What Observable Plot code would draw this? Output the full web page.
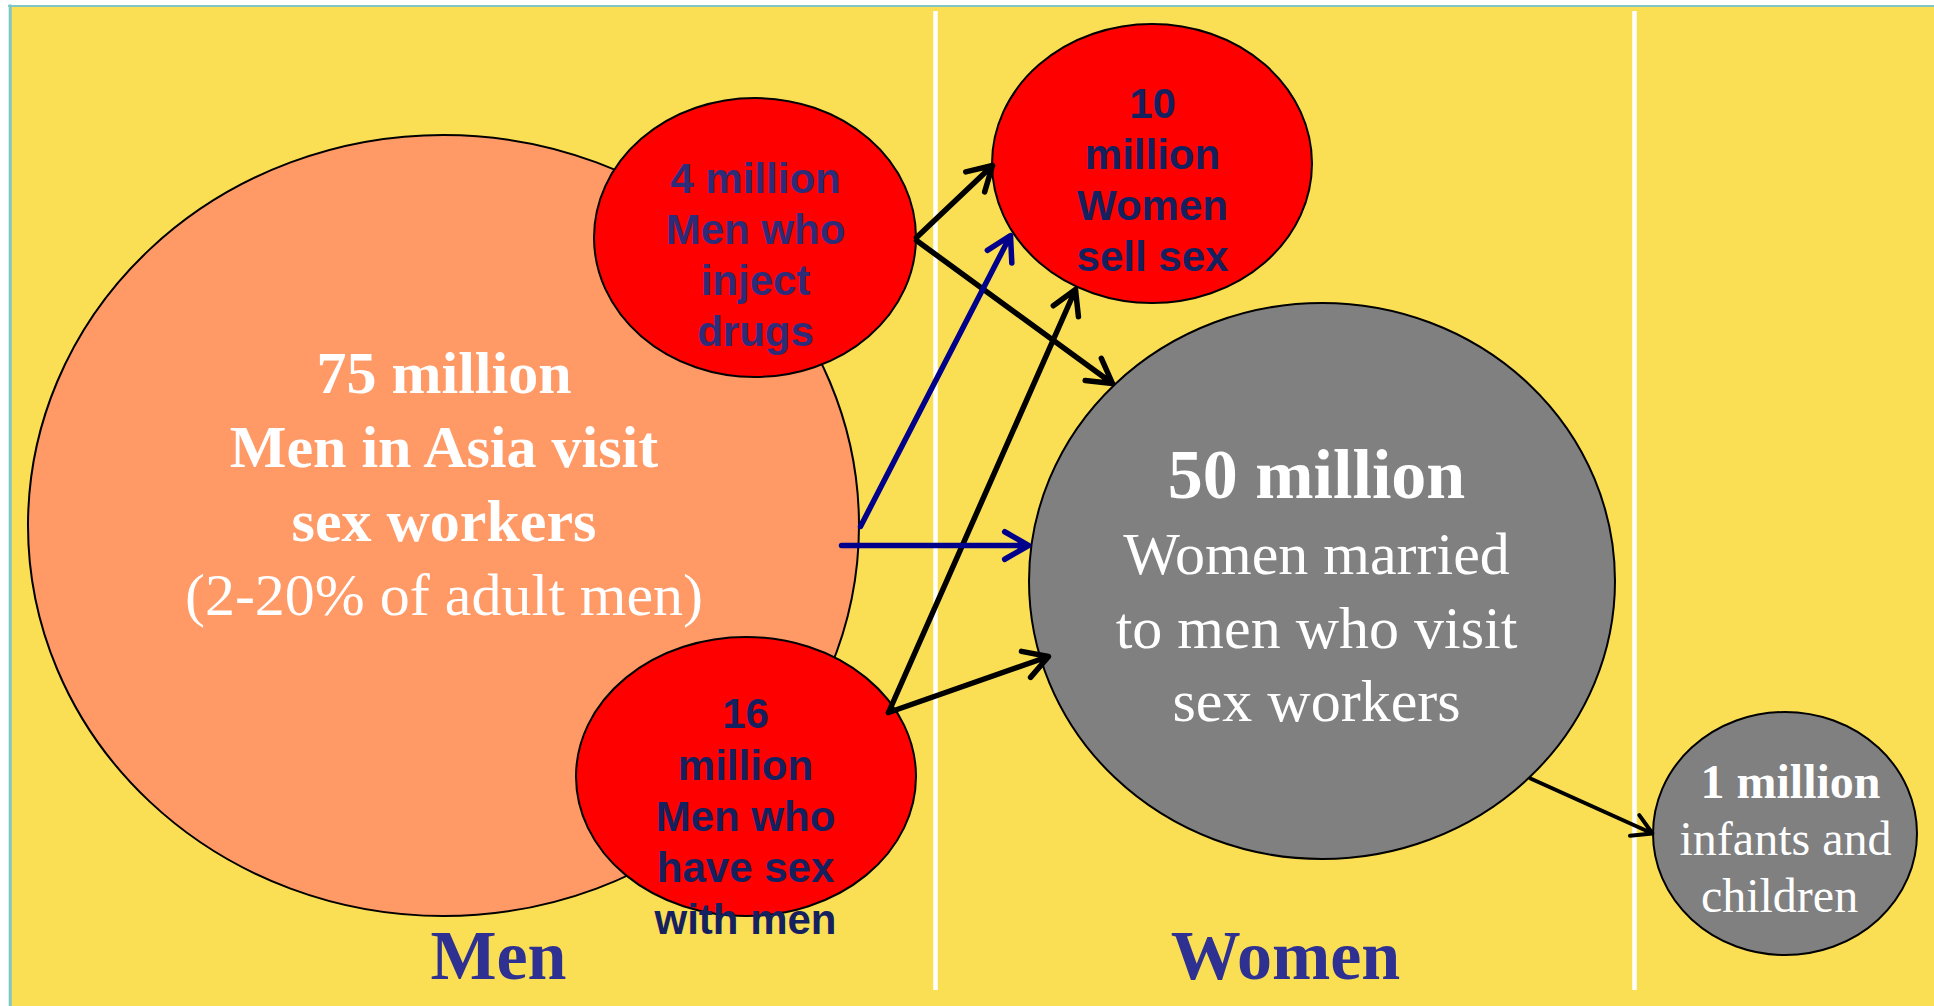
<!DOCTYPE html>
<html>
<head>
<meta charset="utf-8">
<script src="https://cdn.jsdelivr.net/npm/d3@7"></script>
<script src="https://cdn.jsdelivr.net/npm/@observablehq/plot@0.6"></script>
<style>
  html, body { margin: 0; padding: 0; background: #ffffff; overflow: hidden; }
</style>
</head>
<body>
<div id="chart"></div>
<script>
// ---- Data: populations (millions) ----
const nodeIds      = ["clients", "idu", "msm", "fsw", "wives", "children"];
const nodeMillions = [75, 4, 16, 10, 50, 1];
const nodeKinds    = ["client", "risk", "risk", "risk", "infected", "infected"];

// ---- Text lines (per node) ----
const clientLines   = ["75 million", "Men in Asia visit", "sex workers", "(2-20% of adult men)"];
const iduLines      = ["4 million", "Men who", "inject", "drugs"];
const fswLines      = ["10", "million", "Women", "sell sex"];
const msmLines      = ["16", "million", "Men who", "have sex", "with men"];
const wivesLines    = ["50 million", "Women married", "to men who visit", "sex workers"];
const childLines    = ["1 million", "infants and", "children"];
const panelLabels   = ["Men", "Women"];

// ---- Flows (from -> to) ----
const flowFrom = ["idu", "idu", "clients", "clients", "msm", "msm", "wives"];
const flowTo   = ["fsw", "wives", "fsw", "wives", "fsw", "wives", "children"];
const flowKind = ["drug", "drug", "client", "client", "msm", "msm", "mother"];

// ---- Layout (pixel-space units of the identity scales) ----
const layoutCx = {clients: 443.5, idu: 755, msm: 746, fsw: 1152, wives: 1322, children: 1785};
const layoutCy = {clients: 525.5, idu: 237.5, msm: 776.5, fsw: 163.5, wives: 581, children: 833.5};
const layoutRx = {clients: 415.5, idu: 161, msm: 170, fsw: 160, wives: 293, children: 132};
const layoutRy = {clients: 390.5, idu: 139.5, msm: 139.5, fsw: 139.5, wives: 278, children: 121.5};
const drawOrder = ["clients", "idu", "msm", "fsw", "wives", "children"];
const kindFill = {client: "#FF9966", risk: "#FF0000", infected: "#808080"};

const flowStart = [[916, 237], [916, 240], [860, 526], [841, 545], [888, 712], [888, 712], [1530, 778]];
const flowEnd   = [[992, 165], [1112, 383], [1010, 235], [1028, 545], [1075, 289], [1048, 656], [1652, 833]];

const clientBase = [392, 466, 540, 614];
const iduBase    = [192, 243, 294, 345];
const fswBase    = [117, 168, 219, 270];
const msmBase    = [727, 779, 830, 881, 933];
const wivesBase  = [497, 573, 647, 720];
const childBase  = [797, 854, 911];
const childX     = [1790, 1785, 1779];
const panelX     = [498, 1285];
const dividerX   = [935, 1634];

// ---- Build tables ----
const nodes = nodeIds.map((id, i) => ({
  id, millions: nodeMillions[i], kind: nodeKinds[i],
  cx: layoutCx[id], cy: layoutCy[id], rx: layoutRx[id], ry: layoutRy[id]
}));
const byId = Object.fromEntries(nodes.map(n => [n.id, n]));

const flows = flowFrom.map((f, i) => ({
  from: f, to: flowTo[i], kind: flowKind[i],
  x1: flowStart[i][0], y1: flowStart[i][1], x2: flowEnd[i][0], y2: flowEnd[i][1]
}));

function linesOf(lines, bases, x, weights, sizes) {
  return lines.map((t, i) => ({
    text: t, y: bases[i], x: Array.isArray(x) ? x[i] : x,
    bold: weights[i], size: Array.isArray(sizes) ? sizes[i] : sizes
  }));
}

const serifRows = [
  ...linesOf(clientLines, clientBase, layoutCx.clients, [1, 1, 1, 0], 60),
  ...linesOf(wivesLines, wivesBase, 1316, [1, 0, 0, 0], [70, 60, 60, 60]),
  ...linesOf(childLines, childBase, childX, [1, 0, 0], 48)
];
const iduRows = linesOf(iduLines, iduBase, layoutCx.idu, [1, 1, 1, 1], 42);
const redRows = [
  ...linesOf(fswLines, fswBase, layoutCx.fsw, [1, 1, 1, 1], 42),
  ...linesOf(msmLines, msmBase, 745, [1, 1, 1, 1, 1], 42)
];
const panelRows = panelLabels.map((t, i) => ({text: t, x: panelX[i], y: 978}));

const ellipseMarks = drawOrder.map(id => {
  const n = byId[id];
  return Plot.rect([n], {
    x1: d => d.cx - d.rx, x2: d => d.cx + d.rx,
    y1: d => d.cy - d.ry, y2: d => d.cy + d.ry,
    rx: n.rx, ry: n.ry,
    fill: kindFill[n.kind], stroke: "#000000", strokeWidth: 2
  });
});

const YELLOW = "#FADF55";
const TEAL = "#7FC6C6";

const chart = Plot.plot({
  width: 1934,
  height: 1006,
  margin: 0,
  x: {domain: [0, 1934], range: [0, 1934], axis: null},
  y: {domain: [0, 1006], range: [0, 1006], axis: null},
  style: {background: "#ffffff", overflow: "visible"},
  marks: [
    Plot.rect([{x1: 10, x2: 1934, y1: 5.5, y2: 1006}], {x1: "x1", x2: "x2", y1: "y1", y2: "y2", fill: YELLOW}),
    Plot.ruleX([9.7], {y1: 4.5, y2: 1006, stroke: TEAL, strokeWidth: 3}),
    Plot.ruleY([5.5], {x1: 8.2, x2: 1934, stroke: TEAL, strokeWidth: 2}),
    Plot.ruleX(dividerX, {y1: 11, y2: 990, stroke: "#ffffff", strokeWidth: 4.5}),
    ...ellipseMarks,
    Plot.arrow(flows.filter(d => d.kind === "drug" || d.kind === "msm"), {
      x1: "x1", y1: "y1", x2: "x2", y2: "y2", stroke: "#000000", strokeWidth: 5.5, bend: 0, headLength: 7.5
    }),
    Plot.arrow(flows.filter(d => d.kind === "client"), {
      x1: "x1", y1: "y1", x2: "x2", y2: "y2", stroke: "#00008B", strokeWidth: 5.5, bend: 0, headLength: 7.5
    }),
    Plot.arrow(flows.filter(d => d.kind === "mother"), {
      x1: "x1", y1: "y1", x2: "x2", y2: "y2", stroke: "#000000", strokeWidth: 4, bend: 0, headLength: 8.5
    }),
    Plot.text(serifRows.filter(d => d.bold), {
      x: "x", y: "y", text: "text", fontSize: "size", lineAnchor: "bottom",
      fill: "#ffffff", fontFamily: "Liberation Serif", fontWeight: "bold"
    }),
    Plot.text(serifRows.filter(d => !d.bold), {
      x: "x", y: "y", text: "text", fontSize: "size", lineAnchor: "bottom",
      fill: "#ffffff", fontFamily: "Liberation Serif", fontWeight: "normal"
    }),
    Plot.text(iduRows, {
      x: "x", y: "y", text: "text", fontSize: 42, lineAnchor: "bottom",
      fill: "#2E2C78", fontFamily: "Liberation Sans", fontWeight: "bold"
    }),
    Plot.text(redRows, {
      x: "x", y: "y", text: "text", fontSize: 42, lineAnchor: "bottom",
      fill: "#14215E", fontFamily: "Liberation Sans", fontWeight: "bold"
    }),
    Plot.text(panelRows, {
      x: "x", y: "y", text: "text", fontSize: 70, lineAnchor: "bottom",
      fill: "#2E3192", fontFamily: "Liberation Serif", fontWeight: "bold"
    })
  ]
});
document.getElementById("chart").appendChild(chart);
</script>
</body>
</html>
